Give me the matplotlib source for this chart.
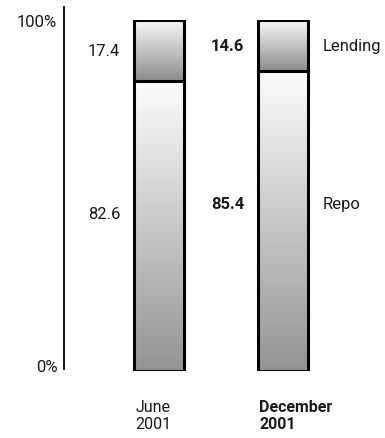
import numpy as np
import matplotlib
matplotlib.use("Agg")
import matplotlib.pyplot as plt
from matplotlib.patches import Rectangle

plt.rcParams['font.family'] = ['Roboto', 'DejaVu Sans']

periods = ["June\n2001", "December\n2001"]
lending = [17.4, 14.6]
repo = [82.6, 85.4]
series_names = ["Lending", "Repo"]
bold_period = [False, True]

fig = plt.figure(figsize=(3.85, 4.39), dpi=100)
ax = fig.add_axes([0, 67 / 439, 1, 351 / 439])
ax.set_xlim(-1.282, 1.823)
ax.set_ylim(0, 100)
ax.axis("off")

width = 0.403
fs = 12
ink = "#1a1a1a"


def gradient_block(x0, y0, y1, top, bottom):
    g = np.linspace(top, bottom, 256).reshape(-1, 1)
    rgb = np.dstack([g, g, g])
    ax.imshow(rgb, extent=[x0, x0 + width, y0, y1], aspect="auto",
              origin="upper", interpolation="bicubic", zorder=1)


for i in range(len(periods)):
    x0 = i - width / 2
    r = repo[i]
    l = lending[i]
    gradient_block(x0, 0, r, 0.99, 0.58)
    gradient_block(x0, r, r + l, 0.98, 0.55)
    ax.add_patch(Rectangle((x0, 0), width, r + l, fill=False,
                           ec="black", lw=2.2, zorder=3))
    ax.plot([x0, x0 + width], [r, r], color="black", lw=2.2, zorder=3)

    weight = "bold" if bold_period[i] else "normal"
    lx = x0 - 0.11
    ax.text(lx, r + l / 2, f"{l:.1f}", ha="right", va="center",
            fontsize=fs, fontweight=weight, color=ink)
    ax.text(lx, r / 2 + 3.5 + 1.5 * i, f"{r:.1f}", ha="right", va="center",
            fontsize=fs, fontweight=weight, color=ink)
    ax.text(x0 + 0.01, -8, periods[i], ha="left", va="top",
            fontsize=fs - 0.5, fontweight=weight, color=ink,
            linespacing=1.15)

# series names to the right of the last bar
xr = len(periods) - 1 + width / 2 + 0.12
ax.text(xr, lending[-1] / 2 + repo[-1], series_names[0], ha="left",
        va="center", fontsize=fs, color=ink)
ax.text(xr, repo[-1] / 2 + 5, series_names[1], ha="left",
        va="center", fontsize=fs, color=ink)

# vertical scale line
ax.plot([-0.766, -0.766], [0.6, 103.7], color="black", lw=1.3,
        clip_on=False)
ax.text(-0.82, 99.7, "100%", ha="right", va="center", fontsize=fs,
        color=ink)
ax.text(-0.82, 1.4, "0%", ha="right", va="center", fontsize=fs,
        color=ink)

fig.savefig("out.png", dpi=100)
